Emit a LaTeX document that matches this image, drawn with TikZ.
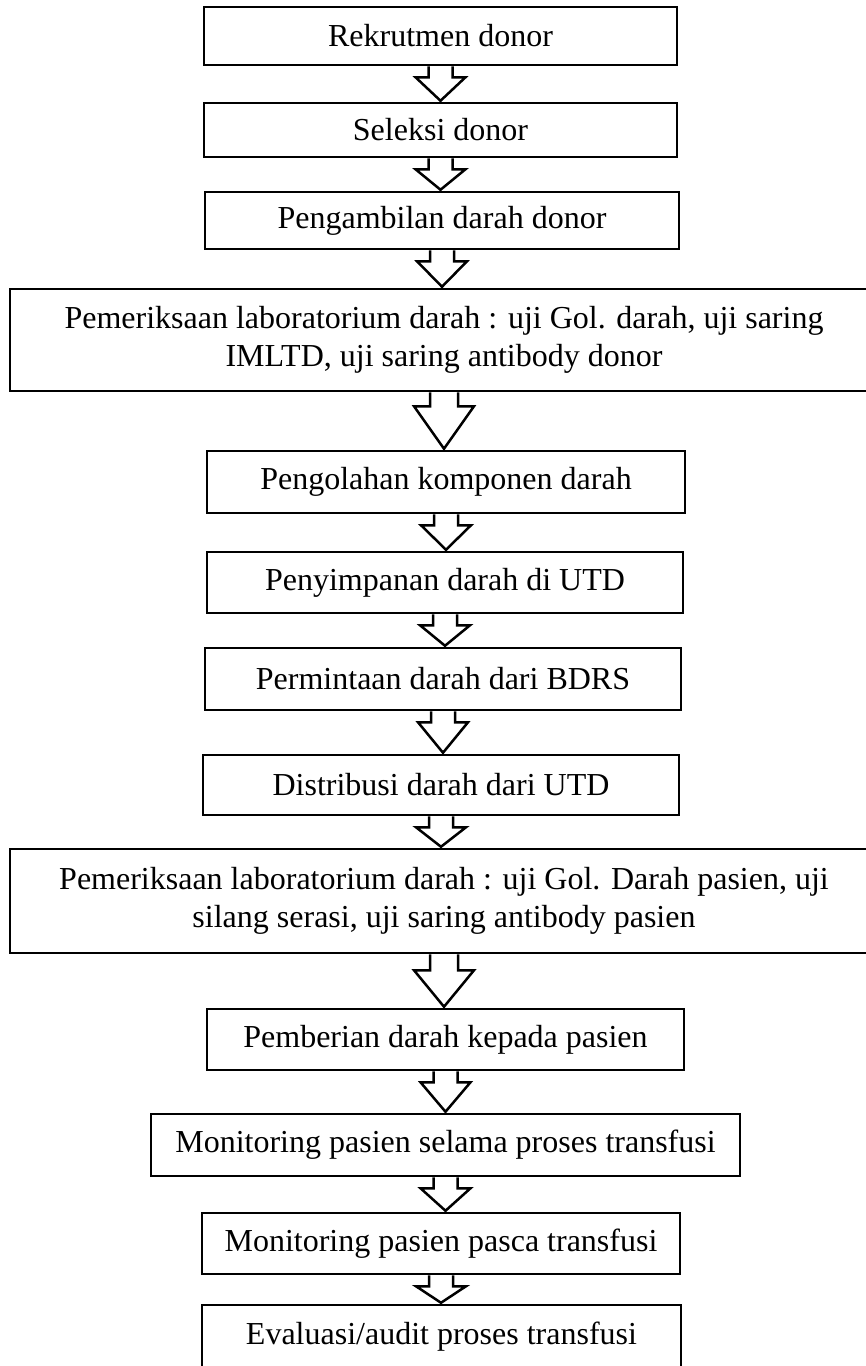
\documentclass[tikz,border=0pt]{standalone}
\usepackage{fontspec}
\setmainfont{Liberation Serif}
\usetikzlibrary{calc}
\tikzset{
  box/.style={draw, line width=2.5pt, fill=white, inner sep=0pt, align=center,
              font=\fontsize{32}{38}\selectfont},
  barrow/.style={draw, line width=2.5pt, line join=miter},
}
\newcommand\flowarrow[5]{%
  \draw[barrow] let \p1=(#1.south), \p2=(#2.north) in
    (\x1-#3pt,\y1) -- (\x1-#3pt,\y1-#5pt) -- (\x1-#4pt,\y1-#5pt) -- (\x1,\y2+1pt)
    -- (\x1+#4pt,\y1-#5pt) -- (\x1+#3pt,\y1-#5pt) -- (\x1+#3pt,\y1);
}
\begin{document}
\begin{tikzpicture}[x=1pt,y=-1pt]
\useasboundingbox (0,0) rectangle (866,1366);
\clip (0,0) rectangle (866,1366);
\node[box, minimum width=473pt, minimum height=58pt] (b1) at (440.5,36) {Rekrutmen donor};
\node[box, minimum width=473pt, minimum height=54pt] (b2) at (440.5,130) {Seleksi donor};
\node[box, minimum width=474pt, minimum height=57pt] (b3) at (442,220.5) {Pengambilan darah donor};
\node[box, minimum width=868pt, minimum height=102pt] (b4) at (444,340) {Pemeriksaan laboratorium darah : uji Gol. darah, uji saring\\IMLTD, uji saring antibody donor};
\node[box, minimum width=478pt, minimum height=62pt] (b5) at (446,482) {Pengolahan komponen darah};
\node[box, minimum width=476pt, minimum height=61pt] (b6) at (445,582.5) {Penyimpanan darah di UTD};
\node[box, minimum width=476pt, minimum height=62pt] (b7) at (443,679) {Permintaan darah dari BDRS};
\node[box, minimum width=476pt, minimum height=60pt] (b8) at (441,785) {Distribusi darah dari UTD};
\node[box, minimum width=868pt, minimum height=104pt] (b9) at (444,901) {Pemeriksaan laboratorium darah : uji Gol. Darah pasien, uji\\silang serasi, uji saring antibody pasien};
\node[box, minimum width=477pt, minimum height=61pt] (b10) at (445.5,1039.5) {Pemberian darah kepada pasien};
\node[box, minimum width=589pt, minimum height=62pt] (b11) at (445.5,1145) {Monitoring pasien selama proses transfusi};
\node[box, minimum width=478pt, minimum height=61pt] (b12) at (441,1243.5) {Monitoring pasien pasca transfusi};
\node[box, minimum width=479pt, minimum height=64pt] (b13) at (441.5,1337) {Evaluasi/audit proses transfusi};
\flowarrow{b1}{b2}{12}{25}{11}
\flowarrow{b2}{b3}{12}{25}{11}
\flowarrow{b3}{b4}{12}{25}{11}
\flowarrow{b4}{b5}{14}{30}{14}
\flowarrow{b5}{b6}{12}{25}{11}
\flowarrow{b6}{b7}{12}{25}{11}
\flowarrow{b7}{b8}{12}{25}{11}
\flowarrow{b8}{b9}{12}{25}{11}
\flowarrow{b9}{b10}{14}{30}{16}
\flowarrow{b10}{b11}{12}{25}{11}
\flowarrow{b11}{b12}{12}{25}{11}
\flowarrow{b12}{b13}{12}{25}{11}
\end{tikzpicture}
\end{document}
